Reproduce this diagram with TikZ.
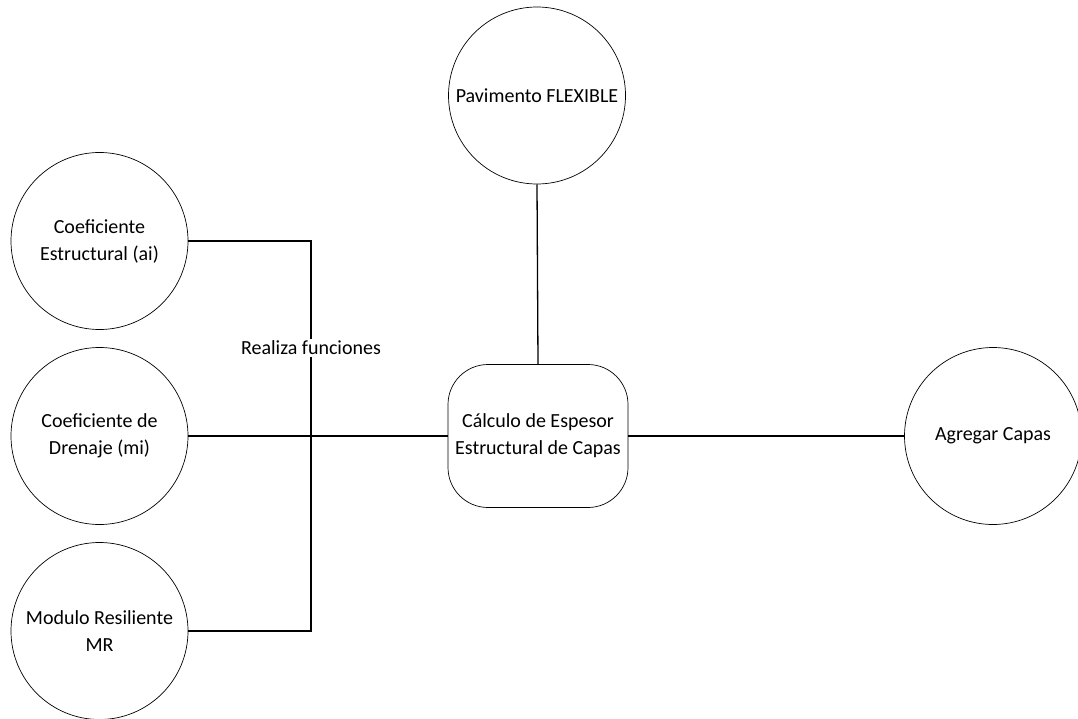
\documentclass[tikz,border=0pt]{standalone}
\usepackage{fontspec}
\setmainfont{Carlito}
\begin{document}
\begin{tikzpicture}[x=1pt,y=-1pt,
  every node/.style={font=\fontsize{20}{27}\selectfont, align=center},
  bubble/.style={draw, circle, line width=0.7pt, minimum size=177pt, inner sep=0pt},
  processbox/.style={draw, rounded corners=40pt, line width=0.7pt, minimum width=180pt, minimum height=143pt, inner sep=0pt},
  link/.style={line width=1.3pt},
  tag/.style={fill=white, inner sep=1.5pt}]
\useasboundingbox (0,0) rectangle (1078,719);

% inputs on the left
\node[bubble] (coef)  at (99.5,241) {Coeficiente\\Estructural (ai)};
\node[bubble] (dren)  at (99.5,436) {Coeficiente de\\Drenaje (mi)};
\node[bubble] (mod)   at (99.5,631) {Modulo Resiliente\\MR};

% central process and the other nodes
\node[bubble] (pav)   at (537,95.5) {Pavimento FLEXIBLE};
\node[processbox] (calc) at (538,436) {Cálculo de Espesor\\Estructural de Capas};
\node[bubble] (capas) at (993,436)  {Agregar Capas};

% bus joining the three inputs
\coordinate (bus) at (311,436);
\draw[link] (coef.east) -| (bus);
\draw[link] (mod.east) -| (bus);
\draw[link] (dren.east) -- (calc.west);
\draw[link] (bus) -- (calc.west);

\draw[link] (pav.south) -- (calc.north);
\draw[link] (calc.east) -- (capas.west);

\node[tag] (lbl) at (311,348) {Realiza funciones};
\end{tikzpicture}
\end{document}
